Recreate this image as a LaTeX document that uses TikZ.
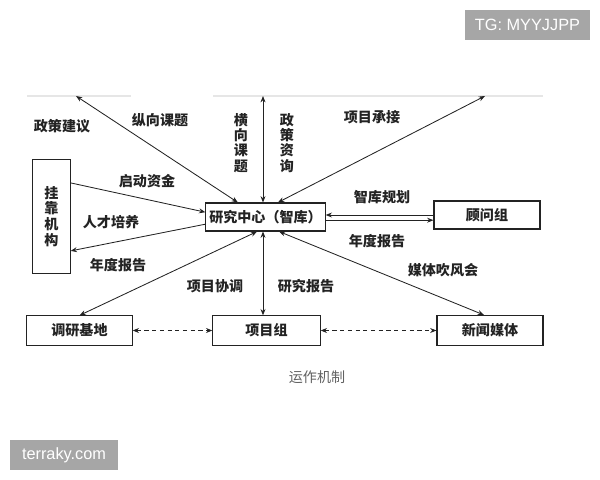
\documentclass[tikz,border=0pt]{standalone}
\usepackage{fontspec}
\setmainfont{Noto Sans CJK SC}
\newfontfamily\latinsans{Liberation Sans}
\usetikzlibrary{arrows.meta, positioning, calc}
\definecolor{inkgray}{RGB}{35, 35, 35}
\definecolor{markgray}{RGB}{166, 166, 166}
\definecolor{edgegray}{RGB}{230, 230, 230}

\begin{document}
\begin{tikzpicture}[x=0.025cm, y=-0.025cm,
  unit/.style={draw=inkgray, line width=0.75pt, fill=white, text=inkgray, inner sep=0pt,
    font=\fontsize{10}{10.8}\selectfont\bfseries},
  lbl/.style={text=inkgray, inner sep=1pt, font=\fontsize{10}{10.8}\selectfont\bfseries},
  link/.style={draw=inkgray, line width=0.6pt, {Stealth[length=4.5pt, width=3.5pt]}-{Stealth[length=4.5pt, width=3.5pt]}},
  tolink/.style={draw=inkgray, line width=0.6pt, -{Stealth[length=4.5pt, width=3.5pt]}},
  dashlink/.style={link, dash pattern=on 3pt off 2.5pt},
  wmark/.style={fill=markgray, text=white, inner sep=0pt, font=\latinsans\fontsize{11.6}{13}\selectfont}]
  \useasboundingbox (0,0) rectangle (600,480);

  % Scan edge
  \draw[edgegray, line width=0.8pt] (27,96) -- (131,96) (213,96) -- (543,96);

  % Units
  \node[unit, minimum width=2.98cm, minimum height=0.7cm] (cen) at (265.5,217) {研究中心（智库）};
  \node[unit, minimum width=0.93cm, minimum height=2.83cm, align=center, font=\fontsize{10}{11.2}\selectfont\bfseries] (gk) at (51.5,216.5) {挂\\靠\\机\\构};
  \node[unit, minimum width=2.65cm, minimum height=0.7cm] (gw) at (487,215) {顾问组};
  \node[unit, minimum width=2.63cm, minimum height=0.73cm] (dy) at (79.5,330.5) {调研基地};
  \node[unit, minimum width=2.68cm, minimum height=0.73cm] (xm) at (266.5,330.5) {项目组};
  \node[unit, minimum width=2.65cm, minimum height=0.75cm] (xw) at (490,330.5) {新闻媒体};

  % Upward links
  \coordinate (t1) at (76,96);
  \coordinate (t2) at (263,96);
  \coordinate (t3) at (485,96);
  \draw[link] (t1) -- ([xshift=-0.69cm]cen.north);
  \draw[link] (t2) -- (t2 |- cen.north);
  \draw[link] (t3) -- ([xshift=0.31cm]cen.north);

  % Host organisation
  \draw[tolink] ([yshift=0.84cm]gk.east) -- ([yshift=0.12cm]cen.west);
  \draw[tolink] ([yshift=-0.18cm]cen.west) -- ([yshift=-0.86cm]gk.east);

  % Advisers
  \coordinate (g1) at ([yshift=0.0cm]gw.west);
  \coordinate (g2) at ([yshift=-0.13cm]gw.west);
  \draw[tolink] (g1) -- (g1 -| cen.east);
  \draw[tolink] (g2 -| cen.east) -- (g2);

  % Downward links
  \draw[link] ([xshift=-0.21cm]cen.south) -- (dy.north);
  \draw[link] (xm.north -| t2) -- (t2 |- cen.south);
  \draw[link] ([xshift=0.34cm]cen.south) -- ([xshift=-0.15cm]xw.north);
  \draw[dashlink] (dy) -- (xm);
  \draw[dashlink] (xm) -- (xw);

  % Labels
  \node[lbl] (l1) at (62,126) {政策建议};
  \node[lbl] (l2) at (160,120) {纵向课题};
  \node[lbl, align=center] (l3) at (241,143) {横\\向\\课\\题};
  \node[lbl, align=center] (l4) at (287,143) {政\\策\\资\\询};
  \node[lbl] (l5) at (372,117) {项目承接};
  \node[lbl] (l6) at (147,181) {启动资金};
  \node[lbl] (l7) at (111,222) {人才培养};
  \node[lbl] (l8) at (118,265) {年度报告};
  \node[lbl] (l9) at (382,197) {智库规划};
  \node[lbl] (l10) at (377,241) {年度报告};
  \node[lbl] (l11) at (443,270) {媒体吹风会};
  \node[lbl] (l12) at (215,286) {项目协调};
  \node[lbl] (l13) at (306,286) {研究报告};

  % Caption
  \node[text=black!62, font=\fontsize{10}{12}\selectfont] (cap) at (317,377) {运作机制};

  % Watermarks
  \node[wmark, minimum width=3.13cm, minimum height=0.75cm] (tg) at (527.5,25) {TG: MYYJJPP};
  \node[wmark, minimum width=2.7cm, minimum height=0.75cm] (site) at (64,455) {terraky.com};
\end{tikzpicture}
\end{document}
